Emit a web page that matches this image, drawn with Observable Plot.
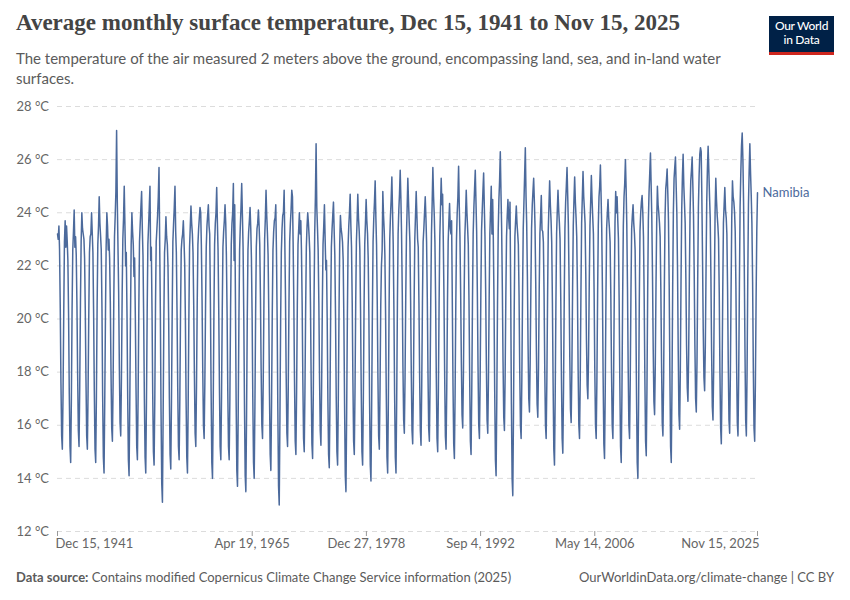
<!DOCTYPE html>
<html><head><meta charset="utf-8">
<script src="https://cdn.jsdelivr.net/npm/d3@7"></script>
<script src="https://cdn.jsdelivr.net/npm/@observablehq/plot@0.6"></script>
<style>
body{margin:0;background:#fff;font-family:Lato,"Noto Sans",sans-serif;}
#wrap{position:relative;width:850px;height:600px;overflow:hidden;background:#fff}
#title{position:absolute;left:16px;top:10px;font-family:"Liberation Serif",serif;font-size:23px;font-weight:700;color:#444;white-space:nowrap}
#sub{position:absolute;left:16px;top:48px;width:730px;font-size:15px;line-height:20px;color:#5b5b5b}
#logo{position:absolute;left:769px;top:16px;width:65px;height:33px;background:#002147;border-bottom:3px solid #ce261e;color:#fff;font-size:12px;line-height:14px;text-align:center;padding-top:3px;box-sizing:content-box;letter-spacing:-0.3px;font-weight:500}
#chart{position:absolute;left:0;top:95px}
#foot-l{position:absolute;left:16px;top:569px;font-size:13px;color:#5b5b5b}
#foot-r{position:absolute;right:16px;top:569px;font-size:13px;color:#5b5b5b}
</style></head>
<body><div id="wrap">
<div id="title">Average monthly surface temperature, Dec 15, 1941 to Nov 15, 2025</div>
<div id="sub">The temperature of the air measured 2 meters above the ground, encompassing land, sea, and in-land water surfaces.</div>
<div id="logo">Our World<br>in Data</div>
<div id="chart"></div>
<div id="foot-l"><b>Data source:</b> Contains modified Copernicus Climate Change Service information (2025)</div>
<div id="foot-r">OurWorldinData.org/climate-change | CC BY</div>
</div>
<script>
// Series: Namibia, monthly values starting Dec 1941 (row 0 = Dec 1941, then Jan..Dec per year, last row 2025 Jan..Nov)
const entity = "Namibia";
const startYear = 1941, startMonth = 11; // December
const monthlyRows = [
"23.2",
"23.0 23.5 22.6 20.4 17.6 15.6 15.1 17.2 20.3 22.9 23.7 22.7", // 1942
"23.5 22.9 22.2 20.1 17.2 15.2 14.6 17.0 20.4 22.6 23.3 24.1",
"22.7 23.1 22.4 20.5 17.9 15.8 15.2 17.5 20.6 22.9 24.0 23.4",
"23.2 23.0 22.3 20.3 17.7 15.6 15.1 17.3 20.2 22.5 23.1 23.2",
"24.0 23.2 22.5 20.2 17.3 15.1 14.6 17.1 20.5 22.8 23.5 24.6",
"23.6 23.1 22.6 20.4 17.1 14.8 14.2 16.9 20.1 22.7 24.0 23.5",
"22.6 23.0 22.3 20.6 18.0 15.9 15.4 17.6 20.8 23.1 23.9 24.8",
"27.1 24.4 22.8 21.0 18.2 16.1 15.6 17.8 20.9 23.0 23.8 25.0",
"23.5 22.0 22.5 20.2 17.1 14.7 14.1 16.8 20.0 22.8 24.0 23.3", // 1950
"22.8 21.6 22.3 20.1 17.4 15.2 14.7 17.1 20.4 22.9 23.6 24.2",
"24.8 23.4 22.4 20.0 17.0 14.8 14.2 16.9 20.3 22.8 23.5 24.2",
"25.0 22.2 22.7 20.3 17.2 15.0 14.5 17.0 20.6 22.9 23.4 23.9",
"24.6 25.7 23.0 20.2 16.5 13.8 13.1 16.4 20.0 22.5 23.0 23.85",
"23.1 22.8 22.0 19.9 17.0 14.9 14.35 16.9 20.2 22.9 23.6 24.2",
"25.0 23.3 22.5 20.2 17.4 15.2 14.7 17.0 20.3 22.6 23.0 23.2",
"23.7 22.9 22.1 20.0 17.0 14.8 14.2 16.8 20.1 22.7 23.5 24.25",
"23.6 23.2 22.5 20.5 17.9 15.7 15.2 17.5 20.6 22.8 23.4 23.8",
"24.2 24.0 22.8 20.7 18.1 16.0 15.5 17.6 20.5 22.7 23.5 23.9",
"24.3 23.5 23.2 20.6 17.3 14.6 14.0 16.7 20.2 22.8 23.6 24.0", // 1960
"24.95 23.6 22.6 20.3 17.4 15.2 14.7 17.1 20.3 22.7 23.3 23.7",
"24.3 23.6 22.4 20.2 17.3 15.2 14.7 17.0 20.4 22.8 23.6 24.0",
"25.1 22.2 24.3 20.8 17.0 14.3 13.7 16.5 20.0 22.6 23.5 24.2",
"25.1 23.9 22.7 20.1 16.8 14.1 13.5 16.4 20.1 22.6 23.3 23.7",
"24.2 23.4 22.3 20.1 17.0 14.6 14.0 16.7 20.2 22.7 23.4 23.6",
"24.1 23.5 22.8 20.8 18.1 16.0 15.5 17.7 20.7 23.0 23.8 24.85",
"23.9 23.2 22.4 20.2 17.2 14.9 14.3 16.9 20.3 22.6 23.3 23.7",
"23.8 24.3 22.6 20.0 16.6 13.7 13.0 16.3 20.0 22.5 23.4 23.9",
"24.0 24.85 23.0 20.8 17.9 15.7 15.2 17.5 20.6 22.9 23.6 24.1",
"24.85 24.6 22.9 20.6 17.7 15.4 14.9 17.3 20.5 22.8 23.4 24.0", // 1970
"23.2 23.7 22.6 20.5 17.7 15.5 15.0 17.3 20.4 22.7 23.5 24.0",
"23.6 23.1 22.5 20.4 17.5 15.3 14.75 17.2 20.6 23.2 24.6 26.6",
"24.2 23.4 22.6 20.6 17.8 15.8 15.25 17.5 20.6 22.8 23.5 24.3",
"23.0 21.85 22.2 20.0 17.0 14.9 14.4 16.9 20.3 22.7 23.4 23.9",
"24.4 23.3 22.4 20.1 17.1 15.0 14.5 17.0 20.3 22.8 23.9 23.4",
"23.2 22.9 22.2 19.9 16.8 14.1 13.5 16.5 20.1 22.7 23.5 24.0",
"24.7 23.5 22.7 20.6 17.7 15.4 14.9 17.3 20.6 22.9 23.7 24.7",
"23.8 23.3 22.6 20.3 17.3 15.0 14.5 17.0 20.4 22.8 23.6 24.5",
"23.7 23.2 22.3 20.1 16.9 14.5 13.9 16.8 20.3 22.9 23.8 24.4",
"25.2 23.8 22.8 20.6 17.8 15.6 15.1 17.4 20.5 22.0 22.6 24.8", // 1980
"23.9 23.3 22.4 20.2 17.2 14.8 14.2 16.9 20.4 23.0 23.9 24.5",
"25.35 24.0 22.8 20.3 17.2 14.8 14.2 17.0 20.6 23.2 24.1 24.7",
"25.6 24.5 23.2 21.0 18.2 16.2 15.7 17.8 20.8 23.1 24.2 25.3",
"24.4 23.6 22.9 20.7 17.9 15.8 15.3 17.5 20.6 23.0 23.9 24.8",
"23.9 23.0 22.7 20.6 17.8 15.8 15.25 17.5 20.6 22.9 23.4 24.0",
"24.6 23.8 22.9 20.8 18.0 15.9 15.4 17.6 20.8 23.2 24.4 25.7",
"24.6 23.9 22.9 20.7 17.8 15.5 15.0 17.4 20.7 23.1 24.2 25.3",
"24.3 24.7 23.0 20.8 17.9 15.6 15.1 17.4 20.6 22.9 23.7 24.35",
"23.4 23.2 23.7 20.6 17.5 15.3 14.75 17.2 20.6 23.0 24.0 24.6",
"25.75 24.2 23.1 21.0 18.4 16.4 15.9 18.0 20.9 23.1 23.9 24.85", // 1990
"24.0 23.4 22.8 20.7 17.8 15.4 14.9 17.3 20.7 23.2 24.2 24.9",
"25.6 24.4 23.3 21.0 18.2 16.0 15.5 17.7 20.9 23.3 24.1 24.8",
"25.5 24.2 23.1 21.0 18.3 16.2 15.7 17.8 20.8 23.2 24.1 25.0",
"23.2 24.5 23.0 20.6 17.3 14.7 14.1 17.0 20.6 23.3 24.5 25.2",
"26.3 24.7 23.4 21.1 18.4 16.3 15.8 17.9 20.9 23.1 23.9 24.5",
"23.8 23.4 24.4 20.9 16.8 14.0 13.35 16.5 20.3 23.1 23.7 24.25",
"23.6 23.2 22.8 20.9 18.1 16.0 15.5 17.7 20.9 23.4 24.4 25.4",
"26.45 24.6 23.6 21.6 19.0 17.0 16.5 18.4 21.2 23.4 24.3 24.8",
"25.3 24.4 23.5 21.4 18.8 16.8 16.3 18.2 21.1 23.2 23.9 24.65",
"23.35 23.3 22.9 20.9 18.1 16.0 15.5 17.7 20.8 23.3 24.3 25.2", // 2000
"24.3 23.7 22.9 20.6 17.6 15.1 14.5 17.1 20.6 23.2 24.1 24.85",
"24.1 23.6 23.0 20.8 17.8 15.5 14.95 17.4 20.8 23.4 24.4 25.0",
"25.7 24.6 23.5 21.3 18.6 16.6 16.1 18.1 21.1 23.5 24.5 25.35",
"24.4 23.8 23.1 21.0 18.1 16.0 15.5 17.7 21.0 23.6 24.6 25.55",
"24.6 24.1 23.6 21.7 19.2 17.5 17.0 18.7 21.4 23.5 24.4 25.4",
"24.5 23.8 23.2 21.0 18.1 16.0 15.5 17.7 20.9 23.5 24.6 25.0",
"25.8 24.6 23.4 21.0 17.8 15.3 14.75 17.3 20.8 23.4 24.0 24.5",
"23.8 23.4 22.9 20.9 18.1 16.0 15.5 17.7 21.0 23.6 24.8 24.0",
"24.6 23.7 23.0 20.7 17.6 15.2 14.6 17.2 20.8 23.5 24.6 25.1",
"26.0 24.9 23.6 21.2 18.2 16.0 15.5 17.8 21.1 23.4 23.9 24.3", // 2010
"23.6 23.2 22.6 20.4 17.2 14.6 14.0 16.9 20.7 23.3 24.0 24.4",
"24.65 24.0 23.1 20.8 17.8 15.4 14.85 17.4 21.0 23.7 24.8 25.5",
"26.25 25.0 23.8 21.6 18.9 16.9 16.4 18.3 21.3 23.6 25.0 24.3",
"24.0 23.6 23.1 21.1 18.4 16.1 15.6 17.8 21.2 23.8 24.9 25.2",
"25.65 24.7 23.7 21.3 18.0 15.2 14.6 17.4 21.2 24.0 25.3 25.7",
"26.1 25.0 24.0 21.8 18.8 16.4 15.85 18.1 21.5 24.1 25.4 26.2",
"25.0 24.3 23.6 21.5 19.0 17.4 16.9 18.7 21.6 24.0 25.2 25.6",
"26.1 25.0 23.9 21.7 19.0 17.0 16.5 18.4 21.5 24.2 25.4 26.2",
"26.45 26.3 24.6 22.2 19.6 17.8 17.3 19.0 21.9 24.4 25.7 26.5",
"25.6 24.6 23.8 21.6 18.8 16.7 16.2 18.2 21.4 24.0 25.3 24.5", // 2020
"23.9 23.5 23.0 21.0 18.0 15.9 15.3 17.6 21.0 23.6 24.3 24.95",
"24.1 23.8 23.2 21.1 18.3 16.2 15.7 17.9 21.1 23.8 25.2 24.6",
"24.4 24.0 23.3 21.2 18.3 16.1 15.6 17.9 21.3 24.2 25.5 26.5",
"27.0 26.0 24.4 22.0 18.9 16.2 15.6 18.0 21.5 24.3 25.6 26.6",
"25.5 24.6 23.6 21.4 18.2 15.9 15.4 17.6 20.8 23.3 24.75" // 2025 (Jan-Nov)
];
const yTicks = [12, 14, 16, 18, 20, 22, 24, 26, 28];
const xTickDates = ["1941-12-15", "1965-04-19", "1978-12-27", "1992-09-04", "2006-05-14", "2025-11-15"];
const xTickLabels = ["Dec 15, 1941", "Apr 19, 1965", "Dec 27, 1978", "Sep 4, 1992", "May 14, 2006", "Nov 15, 2025"];

const values = monthlyRows.join(" ").trim().split(/\s+/).map(Number);
const data = values.map((v, i) => ({date: new Date(Date.UTC(startYear, startMonth + i, 15)), temp: v}));
const ticks = xTickDates.map((d, i) => ({date: new Date(d + "T00:00:00Z"), label: xTickLabels[i]}));
const last = data[data.length - 1];
const blue = "#4c6a9c";
const grey = "#666";

const chart = Plot.plot({
  width: 850,
  height: 470,
  marginTop: 11,
  marginBottom: 34,
  marginLeft: 57,
  marginRight: 93,
  style: {fontFamily: "Lato, sans-serif", fontSize: "13px", background: "transparent"},
  x: {type: "utc", domain: [data[0].date, last.date], axis: null},
  y: {domain: [12, 28], axis: null},
  marks: [
    Plot.ruleY(yTicks, {stroke: "#dcdcdc", strokeDasharray: "5,4", strokeWidth: 1}),
    Plot.text(yTicks, {y: d => d, text: d => `${d} °C`, frameAnchor: "left", dx: -41, textAnchor: "start", fill: grey, fontSize: 13}),
    Plot.axisX(ticks.map(t => t.date), {tickFormat: () => "", tickSize: 5, stroke: "#999", tickPadding: 0}),
    Plot.text(ticks.slice(0, 1), {x: "date", text: "label", frameAnchor: "bottom", dy: 16, dx: -2, textAnchor: "start", fill: grey, fontSize: 13}),
    Plot.text(ticks.slice(1, -1), {x: "date", text: "label", frameAnchor: "bottom", dy: 16, textAnchor: "middle", fill: grey, fontSize: 13}),
    Plot.text(ticks.slice(-1), {x: "date", text: "label", frameAnchor: "bottom", dy: 16, dx: 2, textAnchor: "end", fill: grey, fontSize: 13}),
    Plot.line(data, {x: "date", y: "temp", stroke: blue, strokeWidth: 1.5, curve: "linear"}),
    Plot.text([last], {x: "date", y: "temp", text: () => entity, dx: 5, textAnchor: "start", fill: blue, fontSize: 13})
  ]
});
document.getElementById("chart").appendChild(chart);
</script>
</body></html>
